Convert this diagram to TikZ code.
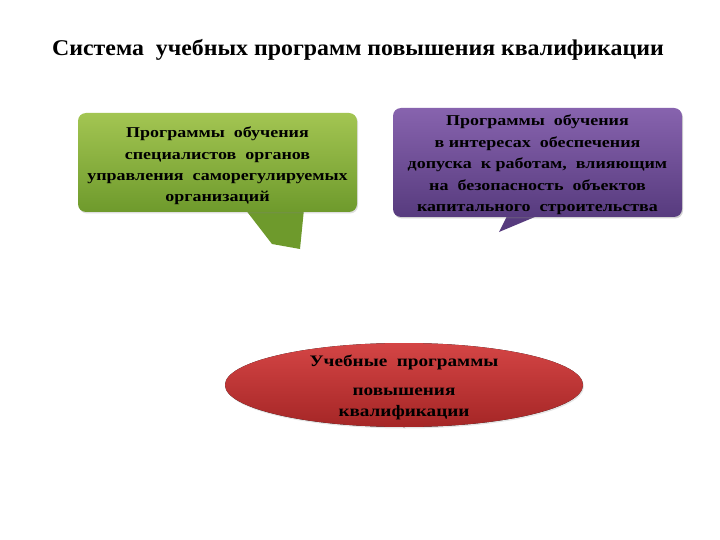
\documentclass[tikz,border=0pt]{standalone}
\usepackage{fontspec}
\setmainfont{Liberation Serif}
\newfontfamily\wideserif[FakeStretch=1.2]{Liberation Serif}
\newfontfamily\titleserif[FakeStretch=1.06]{Liberation Serif}
\usetikzlibrary{shadows}
\definecolor{gtop}{HTML}{A3C552}
\definecolor{gbot}{HTML}{6E9A2C}
\definecolor{ptop}{HTML}{8763AE}
\definecolor{pbot}{HTML}{573B7E}
\definecolor{rtop}{HTML}{D44545}
\definecolor{rbot}{HTML}{A52626}
\tikzset{
  box/.style={rounded corners=8pt, inner sep=0pt},
  boxtext/.style={align=center, inner sep=0pt,
    font=\wideserif\bfseries\fontsize{15}{21.3}\selectfont},
}
\begin{document}
\begin{tikzpicture}[x=1pt,y=-1pt]
\useasboundingbox[fill=white] (0,0) rectangle (720,540);
\node[font=\titleserif\bfseries\fontsize{22.5}{26}\selectfont] (title) at (358,50) {Система\ \ учебных программ повышения квалификации};
% tails
\coordinate (gt1) at (245,209);
\coordinate (gt2) at (272,244);
\coordinate (gt3) at (300,249);
\coordinate (gt4) at (304,209);
\fill[gbot] (gt1) -- (gt2) -- (gt3) -- (gt4) -- cycle;
\coordinate (pt1) at (508,214);
\coordinate (pt2) at (499,232);
\coordinate (pt3) at (542,214);
\fill[pbot] (pt1) -- (pt2) -- (pt3) -- cycle;
% boxes
\node[box, top color=gtop, bottom color=gbot, minimum width=279pt, minimum height=99pt,
  drop shadow={opacity=0.25, shadow xshift=1pt, shadow yshift=-1.5pt}] (green) at (217.5,162.5) {};
\node[boxtext] (greentext) at (217.5,166)
  {Программы\ \ обучения\\ специалистов\ \ органов\\ управления\ \ саморегулируемых\\ организаций};
\node[box, top color=ptop, bottom color=pbot, minimum width=289pt, minimum height=109pt,
  drop shadow={opacity=0.35, shadow xshift=1pt, shadow yshift=-1.5pt}] (purple) at (537.5,162.5) {};
\node[boxtext, font=\wideserif\bfseries\fontsize{15}{21.6}\selectfont] (purpletext) at (537.5,165)
  {Программы\ \ обучения\\ в интересах\ \ обеспечения\\ допуска\ \ к работам,\ \ влияющим\\ на\ \ безопасность\ \ объектов\\ капитального\ \ строительства};
% ellipse
\fill[top color=rtop, bottom color=rbot, drop shadow={opacity=0.2, shadow xshift=1pt, shadow yshift=-1.5pt}]
  (404,385) ellipse [x radius=179, y radius=42];
\node[align=center, font=\wideserif\bfseries\fontsize{16}{21}\selectfont] (core) at (404,387)
  {Учебные\ \ программы\\[8pt] повышения\\ квалификации};
\end{tikzpicture}
\end{document}
